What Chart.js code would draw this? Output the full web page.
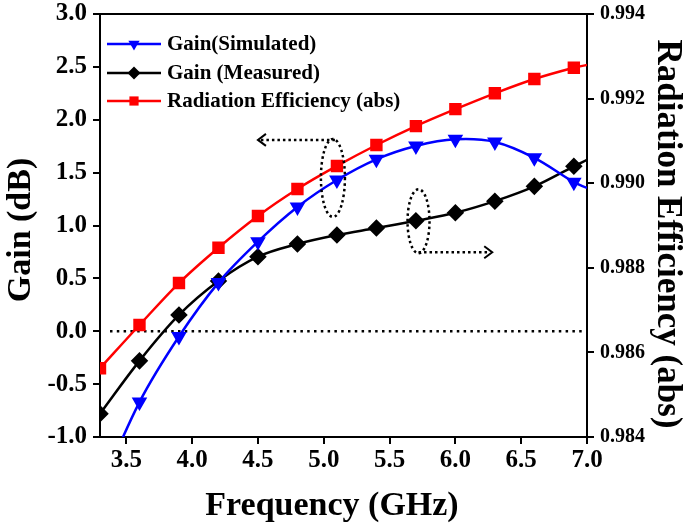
<!DOCTYPE html>
<html>
<head>
  <title>Gain / Radiation Efficiency</title>
  <script src="https://cdn.jsdelivr.net/npm/chart.js"></script>
  <style>
    html, body { margin: 0; padding: 0; background: #fff; }
    #wrap { width: 685px; height: 531px; }
  </style>
</head>
<body>
  <div id="wrap"><canvas id="chart"></canvas></div>

  <script>
    // data (markers every 0.3 GHz, last point at 7.0 has no marker)
    var freq = [3.3, 3.6, 3.9, 4.2, 4.5, 4.8, 5.1, 5.4, 5.7, 6.0, 6.3, 6.6, 6.9, 7.0];
    var gainSim = [-1.5, -0.67, -0.05, 0.46, 0.847, 1.175, 1.43, 1.626, 1.752, 1.815, 1.79, 1.64, 1.41, 1.355];
    var gainMeas = [-0.78, -0.28, 0.154, 0.475, 0.705, 0.825, 0.91, 0.976, 1.045, 1.12, 1.23, 1.37, 1.56, 1.62];
    var radEff = [0.985625, 0.986648, 0.98764, 0.988475, 0.989225, 0.989863, 0.990408, 0.990903,
                  0.99135, 0.99175, 0.992125, 0.992463, 0.99273, 0.992795];

    var freqTicks = [3.5, 4.0, 4.5, 5.0, 5.5, 6.0, 6.5, 7.0];
    var gainTicks = [-1.0, -0.5, 0.0, 0.5, 1.0, 1.5, 2.0, 2.5, 3.0];
    var effTicks = [0.984, 0.986, 0.988, 0.990, 0.992, 0.994];

    var xTitle = 'Frequency (GHz)';
    var yTitle = 'Gain (dB)';
    var y2Title = 'Radiation Efficiency (abs)';

    var FONT = "'Liberation Serif', 'Times New Roman', serif";

    function pts(ys) {
      return freq.map(function (f, i) { return { x: f, y: ys[i] }; });
    }
    function noLastMarker(r) {
      return function (c) { return c.dataIndex === freq.length - 1 ? 0 : r; };
    }

    function drawMarker(ctx, style, x, y, r, color) {
      ctx.save();
      ctx.fillStyle = color;
      ctx.beginPath();
      if (style === 'triangle') {
        ctx.moveTo(x - r * 0.866, y - r * 0.5);
        ctx.lineTo(x + r * 0.866, y - r * 0.5);
        ctx.lineTo(x, y + r);
      } else if (style === 'rectRot') {
        ctx.moveTo(x, y - r); ctx.lineTo(x + r, y); ctx.lineTo(x, y + r); ctx.lineTo(x - r, y);
      } else {
        var s = r * Math.SQRT1_2;
        ctx.rect(x - s, y - s, 2 * s, 2 * s);
      }
      ctx.closePath();
      ctx.fill();
      ctx.restore();
    }

    function dottedEllipse(ctx, cx, cy, rx, ry) {
      ctx.beginPath();
      ctx.ellipse(cx, cy, rx, ry, 0, 0, Math.PI * 2);
      ctx.stroke();
    }

    function rotatedText(ctx, text, x, y, angle) {
      ctx.save();
      ctx.translate(x, y);
      ctx.rotate(angle);
      ctx.fillText(text, 0, 0);
      ctx.restore();
    }

    // keep the plot box fixed: no extra room for half tick labels
    function noEdgePad(s) {
      s.paddingTop = 0; s.paddingBottom = 0; s.paddingLeft = 0; s.paddingRight = 0;
    }

    var extras = {
      id: 'extras',
      beforeDatasetsDraw: function (chart) {
        var ctx = chart.ctx, a = chart.chartArea, y = chart.scales.y;
        ctx.save();
        // zero reference line
        ctx.strokeStyle = '#000';
        ctx.lineWidth = 2.5;
        ctx.setLineDash([2.5, 4.3]);
        var y0 = y.getPixelForValue(0);
        ctx.beginPath();
        ctx.moveTo(a.left + 10, y0);
        ctx.lineTo(a.right, y0);
        ctx.stroke();
        ctx.restore();
      },
      afterDatasetsDraw: function (chart) {
        var ctx = chart.ctx, a = chart.chartArea, xs = chart.scales.x, ys = chart.scales.y;
        ctx.save();
        // top frame line
        ctx.strokeStyle = '#000';
        ctx.lineWidth = 2;
        ctx.beginPath();
        ctx.moveTo(a.left, a.top);
        ctx.lineTo(a.right, a.top);
        ctx.stroke();

        // dotted ellipses with arrows pointing to the axes
        ctx.lineWidth = 2.5;
        ctx.setLineDash([2.5, 3]);
        var e1x = xs.getPixelForValue(5.1) - 4, e1y = ys.getPixelForValue(1.45);
        dottedEllipse(ctx, e1x, e1y, 12, 39);
        var e2x = xs.getPixelForValue(5.72), e2y = ys.getPixelForValue(1.04);
        dottedEllipse(ctx, e2x, e2y, 11, 32);

        var ay1 = e1y - 38, ax1 = xs.getPixelForValue(4.5);
        ctx.beginPath();
        ctx.moveTo(e1x + 2, ay1);
        ctx.lineTo(ax1 + 3, ay1);
        ctx.stroke();
        var ay2 = e2y + 31, ax2 = xs.getPixelForValue(6.28);
        ctx.beginPath();
        ctx.moveTo(e2x, ay2);
        ctx.lineTo(ax2 - 3, ay2);
        ctx.stroke();

        ctx.setLineDash([]);
        ctx.lineWidth = 2;
        ctx.beginPath();
        ctx.moveTo(ax1 + 8, ay1 - 6); ctx.lineTo(ax1, ay1); ctx.lineTo(ax1 + 8, ay1 + 6);
        ctx.moveTo(ax2 - 8, ay2 - 6); ctx.lineTo(ax2, ay2); ctx.lineTo(ax2 - 8, ay2 + 6);
        ctx.stroke();

        // legend in the upper left corner of the plot
        var rows = [44, 73, 101];
        ctx.font = 'bold 21px ' + FONT;
        ctx.textBaseline = 'middle';
        ctx.textAlign = 'left';
        chart.data.datasets.forEach(function (ds, i) {
          var ry = rows[i];
          ctx.strokeStyle = ds.borderColor;
          ctx.lineWidth = 2.5;
          ctx.beginPath();
          ctx.moveTo(a.left + 7, ry);
          ctx.lineTo(a.left + 61, ry);
          ctx.stroke();
          drawMarker(ctx, ds.legendMarker, a.left + 34, ry, 6.5, ds.borderColor);
          ctx.fillStyle = '#000';
          ctx.fillText(ds.label, a.left + 67, ry + 1);
        });
        ctx.restore();
      },
      afterDraw: function (chart) {
        // axis titles (placed a little off-centre, as in the figure)
        var ctx = chart.ctx;
        ctx.save();
        ctx.fillStyle = '#000';
        ctx.font = 'bold 34px ' + FONT;
        ctx.textAlign = 'center';
        ctx.textBaseline = 'middle';
        ctx.fillText(xTitle, 332, 506);
        rotatedText(ctx, yTitle, 21, 230, -Math.PI / 2);
        ctx.font = 'bold 35px ' + FONT;
        rotatedText(ctx, y2Title, 667, 234, Math.PI / 2);
        ctx.restore();
      }
    };

    var tickFont = { family: FONT, size: 25, weight: 'bold' };
    var tickFontSmall = { family: FONT, size: 20, weight: 'bold' };
    var axisGrid = { display: true, drawOnChartArea: false, drawTicks: true, tickLength: 7, color: '#000', lineWidth: 2 };
    var axisBorder = { display: true, color: '#000', width: 2 };

    var ctx = document.getElementById('chart').getContext('2d');
    var chart = new Chart(ctx, {
      type: 'line',
      data: {
        datasets: [{
          label: 'Gain(Simulated)',
          data: pts(gainSim),
          yAxisID: 'y',
          borderColor: '#0000ff',
          backgroundColor: '#0000ff',
          borderWidth: 2.5,
          pointStyle: 'triangle',
          rotation: 180,
          pointRadius: noLastMarker(6.5),
          legendMarker: 'triangle',
          tension: 0.35
        }, {
          label: 'Gain (Measured)',
          data: pts(gainMeas),
          yAxisID: 'y',
          borderColor: '#000000',
          backgroundColor: '#000000',
          borderWidth: 2.5,
          pointStyle: 'rectRot',
          pointRadius: noLastMarker(7),
          legendMarker: 'rectRot',
          tension: 0.35
        }, {
          label: 'Radiation Efficiency (abs)',
          data: pts(radEff),
          yAxisID: 'y2',
          borderColor: '#ff0000',
          backgroundColor: '#ff0000',
          borderWidth: 2.5,
          pointStyle: 'rect',
          pointRadius: noLastMarker(7),
          legendMarker: 'rect',
          tension: 0.35
        }]
      },
      options: {
        responsive: true,
        maintainAspectRatio: false,
        animation: false,
        layout: { padding: { top: 14, left: 0, right: 0, bottom: 0 } },
        plugins: { legend: { display: false }, tooltip: { enabled: false } },
        scales: {
          x: {
            type: 'linear',
            min: 3.3,
            max: 7.0,
            afterBuildTicks: function (s) { s.ticks = freqTicks.map(function (v) { return { value: v }; }); },
            afterFit: function (s) { s.height = 94; noEdgePad(s); },
            grid: axisGrid,
            border: axisBorder,
            ticks: { color: '#000', font: tickFont, padding: 2, maxRotation: 0, autoSkip: false,
                     callback: function (v) { return Number(v).toFixed(1); } },
            title: { display: false }
          },
          y: {
            type: 'linear',
            position: 'left',
            min: -1,
            max: 3,
            afterBuildTicks: function (s) { s.ticks = gainTicks.map(function (v) { return { value: v }; }); },
            afterFit: function (s) { s.width = 100; noEdgePad(s); },
            grid: axisGrid,
            border: axisBorder,
            ticks: { color: '#000', font: tickFont, padding: 6,
                     callback: function (v) { return Number(v).toFixed(1); } },
            title: { display: false }
          },
          y2: {
            type: 'linear',
            position: 'right',
            min: 0.984,
            max: 0.994,
            afterBuildTicks: function (s) { s.ticks = effTicks.map(function (v) { return { value: v }; }); },
            afterFit: function (s) { s.width = 98; noEdgePad(s); },
            grid: axisGrid,
            border: axisBorder,
            ticks: { color: '#000', font: tickFontSmall, padding: 6,
                     callback: function (v) { return Number(v).toFixed(3); } },
            title: { display: false }
          }
        }
      },
      plugins: [extras]
    });
  </script>
</body>
</html>
